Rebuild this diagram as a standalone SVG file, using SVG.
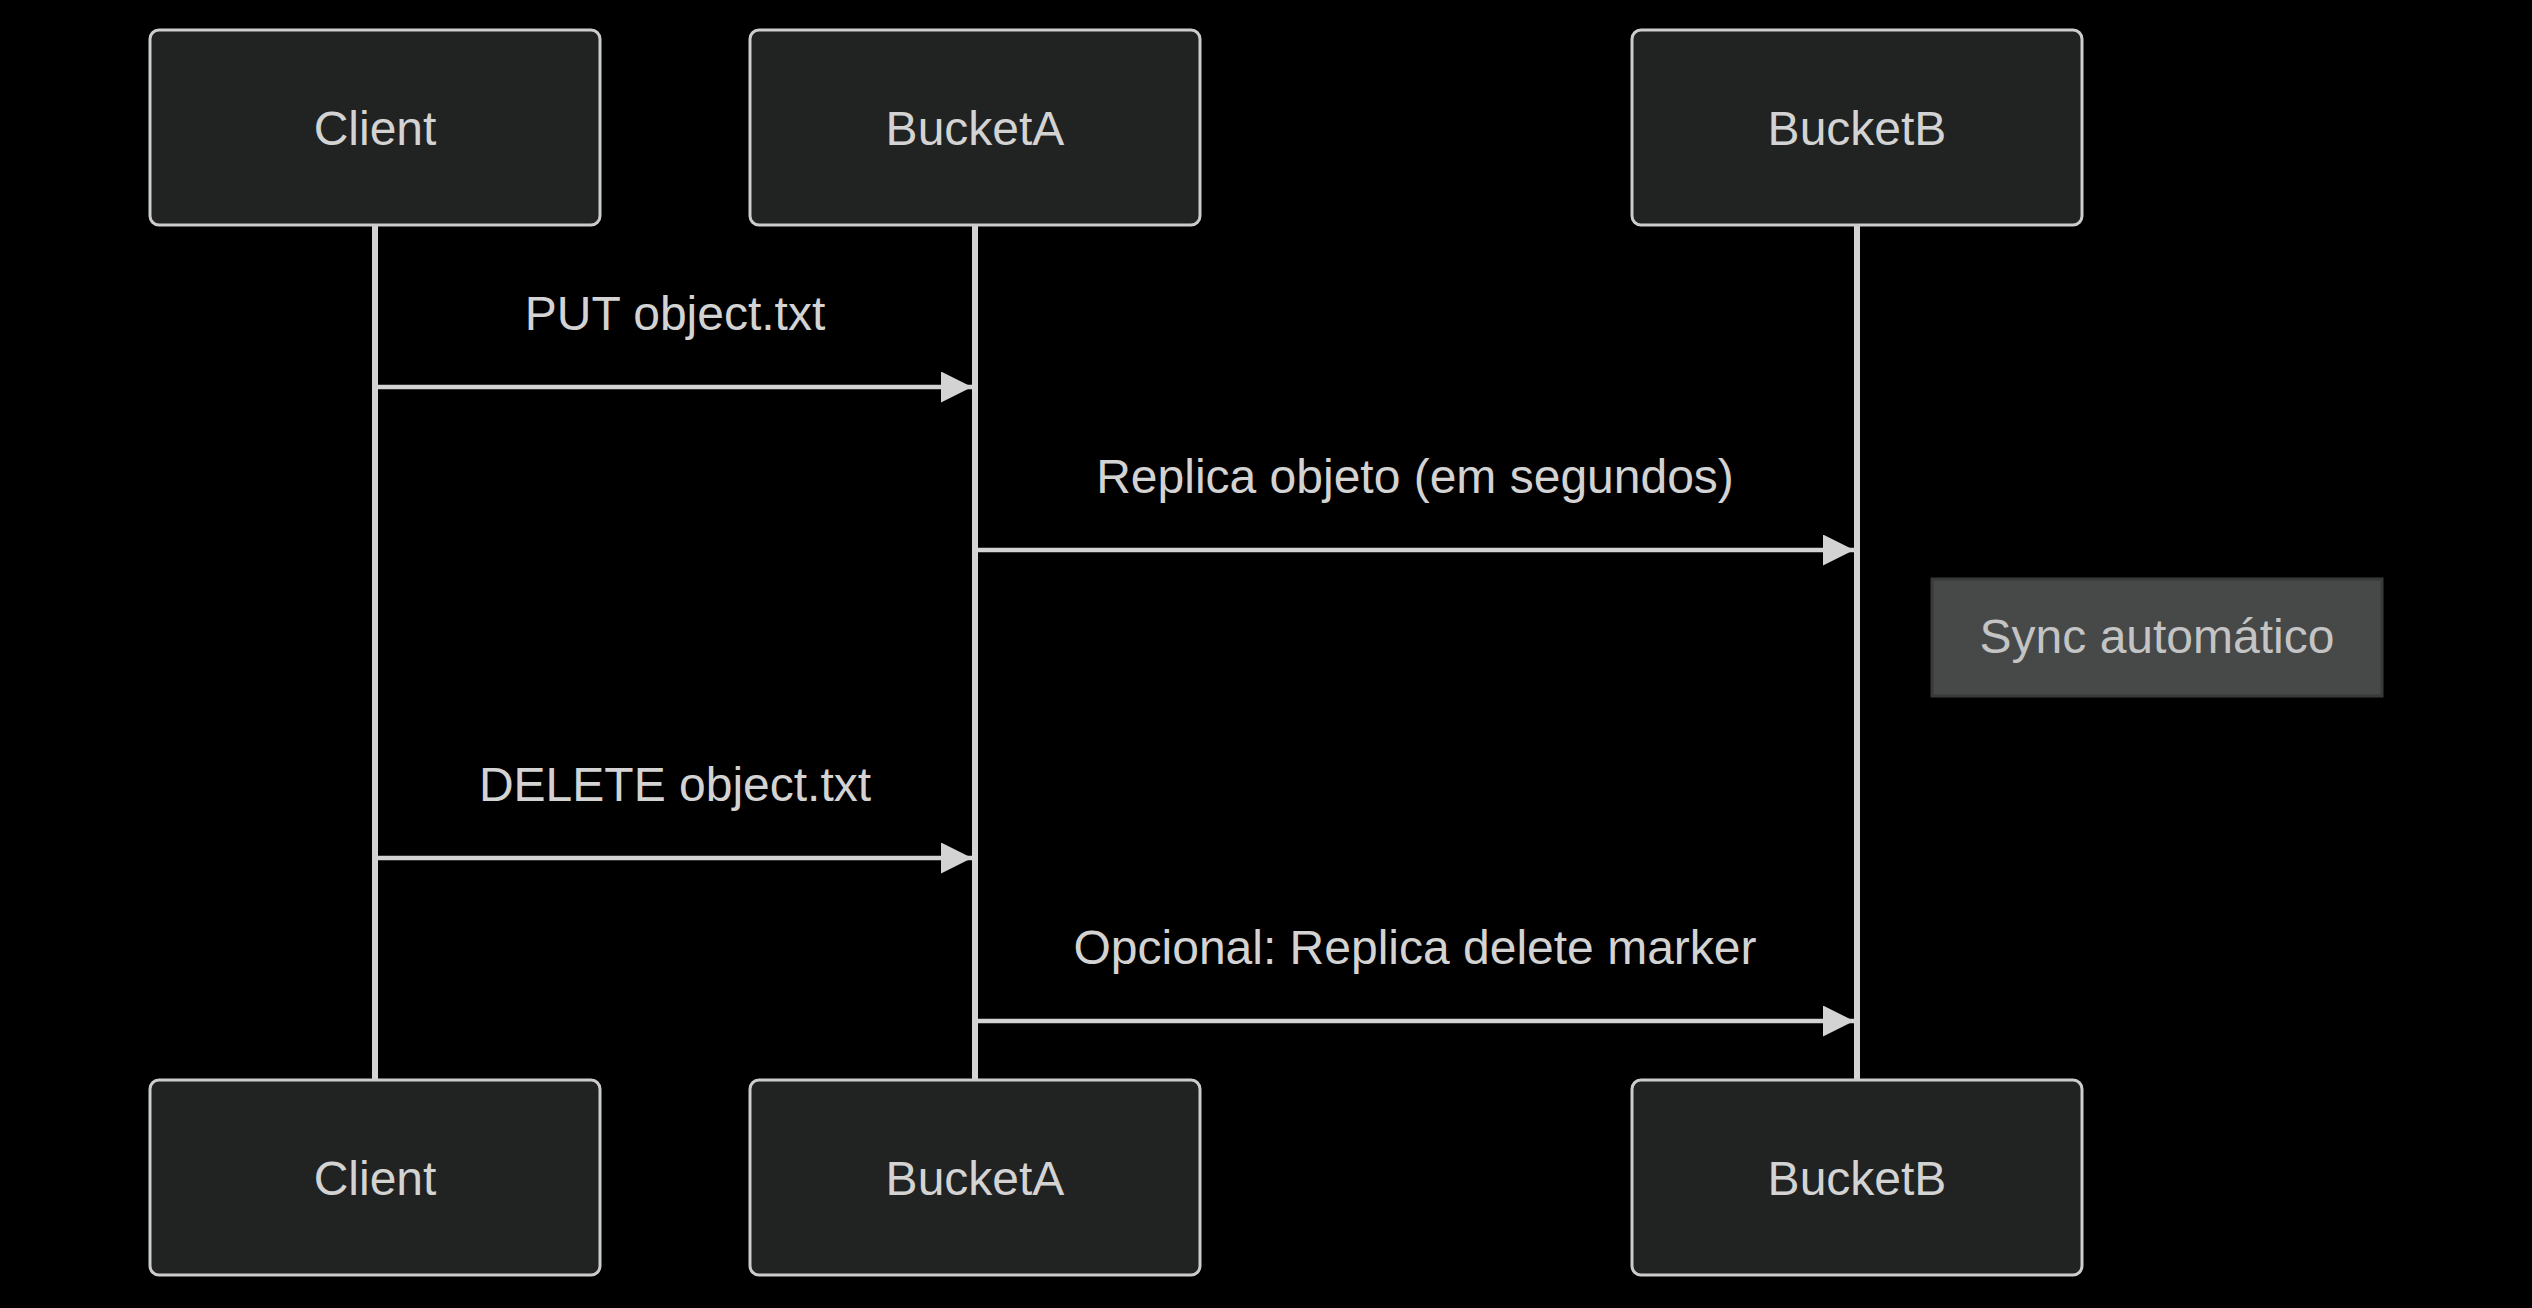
<svg xmlns="http://www.w3.org/2000/svg" width="2532" height="1308" viewBox="0 0 2532 1308">
<style>
.actor{fill:#212222;stroke:#cccccc;stroke-width:3}
.atext{font-family:"Liberation Sans",Arial,sans-serif;font-size:48px;fill:#d3d3d3;text-anchor:middle}
.life{stroke:#d3d3d3;stroke-width:6}
.msg{stroke:#d3d3d3;stroke-width:4.5;fill:none}
.mtext{font-family:"Liberation Sans",Arial,sans-serif;font-size:48px;fill:#d3d3d3;text-anchor:middle}
.note{fill:#474949;stroke:#383a3a;stroke-width:3}
.ntext{font-family:"Liberation Sans",Arial,sans-serif;font-size:48px;fill:#c4c4c4;text-anchor:middle}
</style>
<defs>
<marker id="arrow" markerUnits="userSpaceOnUse" viewBox="0 0 10 10" refX="10" refY="5" markerWidth="32" markerHeight="31" orient="auto">
<path d="M0,0 L10,5 L0,10 z" fill="#d3d3d3"/>
</marker>
</defs>
<rect x="0" y="0" width="2532" height="1308" fill="#000000"/>
<g id="lifelines">
<line class="life" x1="375" y1="225" x2="375" y2="1080"/>
<line class="life" x1="975" y1="225" x2="975" y2="1080"/>
<line class="life" x1="1857" y1="225" x2="1857" y2="1080"/>
</g>
<g id="client-top"><rect class="actor" x="150" y="30" width="450" height="195" rx="9"/><text class="atext" x="375" y="145">Client</text></g>
<g id="bucketa-top"><rect class="actor" x="750" y="30" width="450" height="195" rx="9"/><text class="atext" x="975" y="145">BucketA</text></g>
<g id="bucketb-top"><rect class="actor" x="1632" y="30" width="450" height="195" rx="9"/><text class="atext" x="1857" y="145">BucketB</text></g>
<g id="client-bottom"><rect class="actor" x="150" y="1080" width="450" height="195" rx="9"/><text class="atext" x="375" y="1195">Client</text></g>
<g id="bucketa-bottom"><rect class="actor" x="750" y="1080" width="450" height="195" rx="9"/><text class="atext" x="975" y="1195">BucketA</text></g>
<g id="bucketb-bottom"><rect class="actor" x="1632" y="1080" width="450" height="195" rx="9"/><text class="atext" x="1857" y="1195">BucketB</text></g>
<g id="note-sync"><rect class="note" x="1932" y="579" width="450" height="117"/><text class="ntext" x="2157" y="653">Sync automático</text></g>
<g id="connectors">
<line class="msg" x1="375" y1="387" x2="972" y2="387" marker-end="url(#arrow)"/>
<text class="mtext" x="675" y="330">PUT object.txt</text>
<line class="msg" x1="975" y1="550" x2="1854" y2="550" marker-end="url(#arrow)"/>
<text class="mtext" x="1415" y="493">Replica objeto (em segundos)</text>
<line class="msg" x1="375" y1="858" x2="972" y2="858" marker-end="url(#arrow)"/>
<text class="mtext" x="675" y="801">DELETE object.txt</text>
<line class="msg" x1="975" y1="1021" x2="1854" y2="1021" marker-end="url(#arrow)"/>
<text class="mtext" x="1415" y="964">Opcional: Replica delete marker</text>
</g>
</svg>
